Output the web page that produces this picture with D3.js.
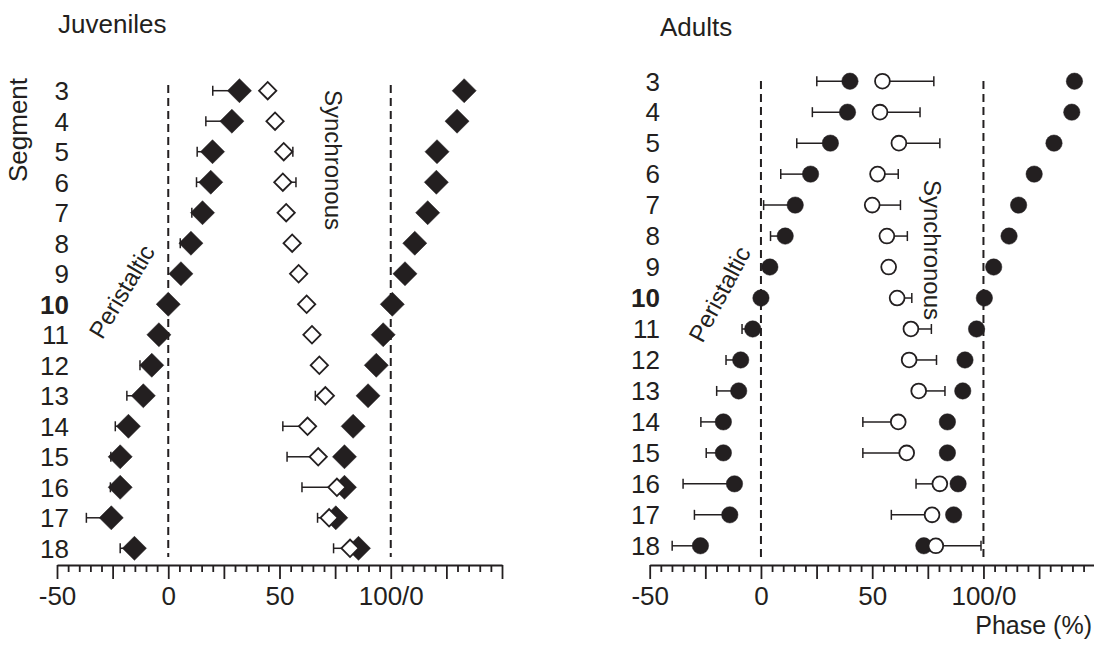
<!DOCTYPE html>
<html>
<head>
<meta charset="utf-8">
<script src="https://cdn.jsdelivr.net/npm/d3@7"></script>
<style>
  body { margin:0; background:#fff; }
  svg text { font-family: "Liberation Sans", Arial, sans-serif; fill:#231f20; }
</style>
</head>
<body>
<svg id="chart" width="1094" height="645"></svg>
<script>
// segments (rows)
var segments = [3,4,5,6,7,8,9,10,11,12,13,14,15,16,17,18];

// Juveniles, phase (%) - filled diamonds, their error ends, wrapped copy, open diamonds
var juvPhase     = [32, 28.6, 19.9, 19.1, 15.4, 10.2, 5.7, 0, -4.2, -7.4, -11.2, -17.9, -21.6, -21.6, -25.6, -15.2];
var juvPhaseErr  = [20, 16.9, 13, 12.7, 10.6, 5.4, null, null, null, -12.7, -18.6, -23.8, -25.8, -26, -36.8, -21.6];
var juvWrapped   = [133, 129.8, 120.8, 120.5, 116.6, 110.8, 106.4, 100.7, 96.6, 93.5, 89.8, 83.1, 79.2, 79.2, 75.3, 85.5];
var juvOpen      = [44.7, 48, 51.9, 51.5, 53, 55.7, 58.6, 62.2, 64.6, 67.9, 70.6, 62.6, 67.4, 75.8, 72.3, 81.7];
var juvOpenErr   = [null, null, 56, 57.4, null, null, null, null, null, null, 66.1, 51.5, 53.4, 60.1, 67.1, 74.3];

// Adults - filled circles, error ends, wrapped copy, open circles
var adPhase      = [40, 38.9, 31.2, 22.3, 15.4, 10.9, 4, 0, -3.7, -9.1, -10, -16.9, -16.9, -11.9, -14, -27.2];
var adPhaseErr   = [25.1, 23.1, 16.1, 8.9, 1.2, 4.3, null, null, -8.5, -15.7, -19.9, -27, -24.6, -35, -29.9, -39.9];
var adWrapped    = [140.9, 139.7, 131.7, 122.8, 115.8, 111.5, 104.6, 100.4, 96.9, 91.7, 90.7, 83.8, 83.8, 88.6, 86.6, 73.2];
var adOpen       = [54.6, 53.5, 62, 52.4, 50, 56.6, 57.4, 61.2, 67.4, 66.6, 70.9, 61.7, 65.5, 80.4, 76.9, 78.6];
var adOpenErr    = [77.7, 71.5, 80.4, 61.7, 62.7, 65.8, 59.7, 67.8, 76.6, 78.9, 82.7, 45.8, 45.8, 69.7, 58.6, 98.9];

// x ticks
var tickValues = d3.range(-50, 151, 5);
var tickLabels = {"-50":"-50", "0":"0", "50":"50", "100":"100/0"};
var refLines = [0, 100];

var svg = d3.select("#chart");
var ink = "#231f20";

function drawPanel(cfg) {
  var x = d3.scaleLinear().domain([-50, 150]).range(cfg.xRange);
  var y = d3.scalePoint().domain(segments).range(cfg.yRange);
  var g = svg.append("g");

  // title
  g.append("text").attr("x", cfg.titleX).attr("y", cfg.titleY)
    .attr("font-size", 26).text(cfg.title);

  // segment labels
  g.selectAll("text.seg").data(segments).enter().append("text")
    .attr("class", "seg")
    .attr("x", cfg.labelX)
    .attr("y", function(d){ return y(d) + 9.3; })
    .attr("text-anchor", "end")
    .attr("font-size", 26)
    .attr("font-weight", function(d){ return d === 10 ? "bold" : "normal"; })
    .text(function(d){ return d; });

  // dashed reference lines
  g.selectAll("line.ref").data(refLines).enter().append("line")
    .attr("x1", function(d){ return x(d); }).attr("x2", function(d){ return x(d); })
    .attr("y1", cfg.dashY[0]).attr("y2", cfg.dashY[1])
    .attr("stroke", ink).attr("stroke-width", 2)
    .attr("stroke-dasharray", "8,5");

  // axis
  var axis = d3.axisBottom(x).tickValues(tickValues).tickSize(7).tickSizeOuter(0)
    .tickFormat(function(d){ return tickLabels[d] || ""; });
  var ax = g.append("g").attr("transform", "translate(0," + cfg.axisY + ")").call(axis);
  ax.select(".domain").attr("stroke", ink).attr("stroke-width", 2);
  ax.selectAll(".tick line").attr("stroke", ink).attr("stroke-width", 1.8)
    .attr("y2", function(d){ return d % 25 === 0 ? 14 : 7; });
  ax.selectAll(".tick text").attr("font-size", 26).attr("fill", ink)
    .attr("dy", 0).attr("y", 40)
    .style("font-family", '"Liberation Sans", Arial, sans-serif');

  // annotations
  g.append("text").attr("font-size", 24).attr("text-anchor", "middle")
    .attr("transform", "translate(" + cfg.periX + "," + cfg.periY + ") rotate(" + cfg.periRot + ")")
    .text("Peristaltic");
  g.append("text").attr("font-size", 24).attr("text-anchor", "middle")
    .attr("transform", "translate(" + cfg.syncX + "," + cfg.syncY + ") rotate(90)")
    .text("Synchronous");

  // error bars
  function errBars(vals, ends) {
    var rows = segments.map(function(s, i){ return {s:s, v:vals[i], e:ends[i]}; })
      .filter(function(d){ return d.e !== null; });
    var eg = g.append("g");
    eg.selectAll("line.bar").data(rows).enter().append("line")
      .attr("x1", function(d){ return x(d.v); }).attr("x2", function(d){ return x(d.e); })
      .attr("y1", function(d){ return y(d.s); }).attr("y2", function(d){ return y(d.s); })
      .attr("stroke", ink).attr("stroke-width", 1.5);
    eg.selectAll("line.cap").data(rows).enter().append("line")
      .attr("x1", function(d){ return x(d.e); }).attr("x2", function(d){ return x(d.e); })
      .attr("y1", function(d){ return y(d.s) - 5; }).attr("y2", function(d){ return y(d.s) + 5; })
      .attr("stroke", ink).attr("stroke-width", 1.5);
  }
  errBars(cfg.filled, cfg.filledErr);
  errBars(cfg.open, cfg.openErr);

  function marks(vals, filled) {
    var sel = g.append("g").selectAll("path").data(vals).enter().append("path");
    if (cfg.shape === "diamond") {
      var sym = d3.symbol().type(d3.symbolSquare).size(filled ? 290 : 150);
      sel.attr("d", sym())
        .attr("transform", function(d, i){ return "translate(" + x(d) + "," + y(segments[i]) + ") rotate(45)"; });
    } else {
      var r = filled ? 8.2 : 7.4;
      sel.attr("d", d3.arc()({innerRadius:0, outerRadius:r, startAngle:0, endAngle:2*Math.PI}))
        .attr("transform", function(d, i){ return "translate(" + x(d) + "," + y(segments[i]) + ")"; });
    }
    sel.attr("fill", filled ? ink : "#fff")
      .attr("stroke", ink).attr("stroke-width", filled ? 0.5 : 1.8);
  }
  marks(cfg.filled, true);
  marks(cfg.wrapped, true);
  marks(cfg.open, false);
}

drawPanel({
  title:"Juveniles", titleX:58, titleY:33,
  xRange:[57, 502], yRange:[90.7, 548.3], labelX:69, axisY:565,
  dashY:[85, 557], shape:"diamond",
  periX:129, periY:296, periRot:-59,
  syncX:325, syncY:160,
  filled:juvPhase, filledErr:juvPhaseErr, wrapped:juvWrapped,
  open:juvOpen, openErr:juvOpenErr
});

drawPanel({
  title:"Adults", titleX:660, titleY:36,
  xRange:[649.7, 1094.7], yRange:[81.2, 545.8], labelX:660, axisY:565,
  dashY:[81, 560], shape:"circle",
  periX:727, periY:298, periRot:-62,
  syncX:924, syncY:250,
  filled:adPhase, filledErr:adPhaseErr, wrapped:adWrapped,
  open:adOpen, openErr:adOpenErr
});

// axis titles
svg.append("text").attr("font-size", 26).attr("text-anchor", "middle")
  .attr("transform", "translate(27,130) rotate(-90)").text("Segment");
svg.append("text").attr("font-size", 25).attr("text-anchor", "end")
  .attr("x", 1092).attr("y", 634).text("Phase (%)");
</script>
</body>
</html>
